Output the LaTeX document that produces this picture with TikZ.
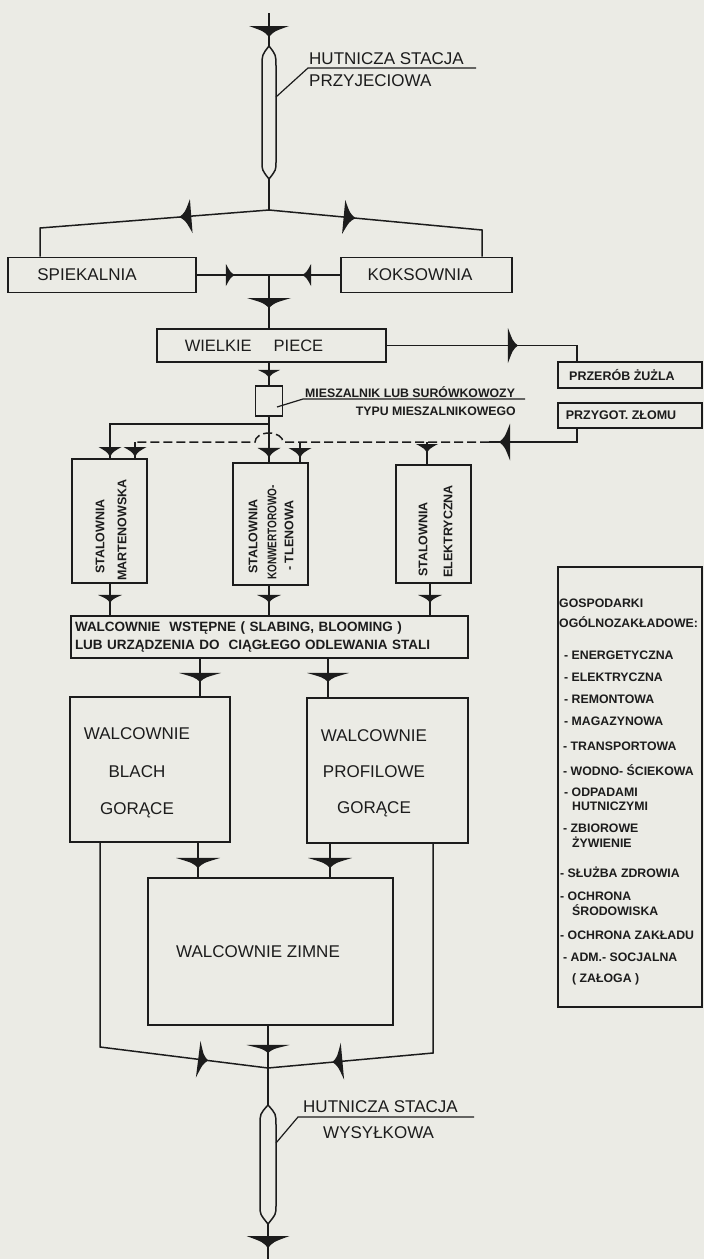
\documentclass[tikz,border=0pt]{standalone}
\usepackage{fontspec}
\setmainfont{Liberation Sans}
\usetikzlibrary{decorations.markings}
\definecolor{ink}{RGB}{28,28,28}
\definecolor{paper}{RGB}{235,235,229}
\tikzset{
  conn/.style={draw=ink, line width=1.5pt},
  lead/.style={draw=ink, line width=1.2pt},
  box/.style={draw=ink, line width=1.9pt, inner sep=0pt, text=ink},
  big/.style={font=\fontsize{17}{20}\selectfont, text=ink},
  sm/.style={font=\bfseries\fontsize{12.5}{15}\selectfont, text=ink},
  gt/.style={font=\bfseries\fontsize{12.3}{14}\selectfont, text=ink, anchor=west, inner sep=0pt},
  scrap/.style={dash pattern=on 9pt off 4pt},
  fa/.style args={#1:#2/#3}{postaction={decorate,decoration={markings,
      mark=at position #1 with {\fill[ink] (0,0) .. controls (-0.5*#3,0.12*#2) .. (-#3,0.5*#2) -- (-#3,-0.5*#2) .. controls (-0.5*#3,-0.12*#2) .. (0,0) -- cycle;}}}},
}
\begin{document}
\begin{tikzpicture}[x=1pt,y=-1pt]
\fill[paper] (0,0) rectangle (704,1259);
\useasboundingbox (0,0) rectangle (704,1259);

% ---------- boxes ----------
\node[box,big,minimum width=188pt,minimum height=35pt] (spiek) at (102,275) {SPIEKALNIA\hspace*{30pt}};
\node[box,big,minimum width=171pt,minimum height=35pt] (koks) at (426.5,275) {KOKSOWNIA\hspace*{13pt}};
\node[box,font=\fontsize{16.5}{20}\selectfont,minimum width=229pt,minimum height=33pt] (wp) at (271.5,345.5) {WIELKIE\hspace{22pt}PIECE\hspace*{35pt}};
\node[box,sm,minimum width=144pt,minimum height=26pt] (prz) at (630,375) {PRZERÓB ŻUŻLA\hspace*{16pt}};
\node[box,sm,minimum width=144pt,minimum height=25pt] (pzl) at (630,415.5) {PRZYGOT. ZŁOMU\hspace*{18pt}};
\node[box,minimum width=27pt,minimum height=30pt] (mix) at (269,401) {};
\node[box,minimum width=75pt,minimum height=124pt] (stM) at (109.5,521) {};
\node[box,minimum width=75pt,minimum height=122pt] (stK) at (270.5,524) {};
\node[box,minimum width=75pt,minimum height=118pt] (stE) at (433.5,524) {};
\node[box,sm,font=\bfseries\fontsize{13.5}{18}\selectfont,text width=389pt,inner xsep=4pt,minimum height=42pt,align=left] (wst) at (269.5,637)
  {WALCOWNIE\ \ WSTĘPNE ( SLABING, BLOOMING )\\LUB URZĄDZENIA DO\ \ CIĄGŁEGO ODLEWANIA STALI};
\node[box,font=\fontsize{17}{37.5}\selectfont,minimum width=160pt,minimum height=145pt] (blach) at (150,769.5)
  {\begin{tabular}{@{}c@{}}WALCOWNIE\\BLACH\\GORĄCE\end{tabular}\hspace*{26pt}};
\node[box,font=\fontsize{17}{36}\selectfont,minimum width=161pt,minimum height=145pt] (prof) at (387.5,770.5)
  {\begin{tabular}{@{}c@{}}WALCOWNIE\\PROFILOWE\\GORĄCE\end{tabular}\hspace*{27pt}};
\node[box,big,minimum width=245pt,minimum height=147pt] (zimne) at (270.5,951.5) {WALCOWNIE ZIMNE\hspace*{25pt}};
\node[box,minimum width=144pt,minimum height=440pt] (gosp) at (630,787) {};

% ---------- rotated texts in the steel plants ----------
\node[sm,rotate=90,anchor=west,inner sep=0pt] (tM1) at (100,574) {STALOWNIA};
\node[sm,rotate=90,anchor=west,inner sep=0pt] (tM2) at (122,581) {MARTENOWSKA};
\node[sm,rotate=90,anchor=west,inner sep=0pt] (tK1) at (253,574) {STALOWNIA};
\node[sm,rotate=90,anchor=west,inner sep=0pt] (tK2) at (272,580) {\scalebox{0.8}[1]{KONWERTOROWO-}};
\node[sm,rotate=90,anchor=west,inner sep=0pt] (tK3) at (289,571) {- TLENOWA};
\node[sm,rotate=90,anchor=west,inner sep=0pt] (tE1) at (423,577) {STALOWNIA};
\node[sm,rotate=90,anchor=west,inner sep=0pt] (tE2) at (448,578) {ELEKTRYCZNA};

% ---------- GOSPODARKI list ----------
\node[gt] (g0) at (559,603) {GOSPODARKI};
\node[gt] (g00) at (559,622) {OGÓLNOZAKŁADOWE:};
\foreach \xx/\yy/\tt [count=\i] in {
  564/655/- ENERGETYCZNA, 564/677/- ELEKTRYCZNA, 564/699/- REMONTOWA,
  564/721/- MAGAZYNOWA, 563/746/- TRANSPORTOWA, 563/770/- WODNO- ŚCIEKOWA,
  564/792/- ODPADAMI, 572/806/HUTNICZYMI, 563/828/- ZBIOROWE, 572/842/ŻYWIENIE,
  560/872/- SŁUŻBA ZDROWIA, 560/896/- OCHRONA, 572/910/ŚRODOWISKA,
  560/935/- OCHRONA ZAKŁADU, 563/957/- ADM.- SOCJALNA, 572/979/( ZAŁOGA )}
  \node[gt] (g\i) at (\xx,\yy) {\tt};

% ---------- coordinates ----------
\coordinate (top) at (269,13);
\coordinate (capT) at (269,46);
\coordinate (capB) at (269,179);
\coordinate (J1) at (269,210);
\coordinate (cL) at (40,228);
\coordinate (cR) at (482,230);
\coordinate (M1) at (269,275);
\coordinate (kP) at (577,345.5);
\coordinate (kZ) at (577,442);
\coordinate (kD) at (489,442);
\coordinate (hopR) at (283,442);
\coordinate (kS) at (135,442);
\coordinate (kK) at (300,442);
\coordinate (kE) at (427,442);
\coordinate (J2) at (269,424);
\coordinate (kM) at (110,424);
\coordinate (kE2) at (430,600);
\coordinate (kB1) at (200,680);
\coordinate (kP1) at (328,680);
\coordinate (kB2) at (198,860);
\coordinate (kP2) at (330,860);
\coordinate (kBL) at (100,1047);
\coordinate (kPR) at (433,1053);
\coordinate (J3) at (268,1068);
\coordinate (cap2T) at (268,1105);
\coordinate (cap2B) at (268,1224);
\coordinate (bot) at (268,1259);

% ---------- receiving station ----------
\draw[conn,fa=24pt:40/11] (top) -- (capT);
\draw[conn] (capT) .. controls (262,55) .. (262,66) -- (262,162) .. controls (262,170) .. (capB)
  .. controls (276,170) .. (276,162) -- (276,66) .. controls (276,55) .. (capT) -- cycle;
\draw[conn] (capB) -- (J1);
\draw[conn,fa=90pt:34/12] (J1) -- (cL) -- (cL |- spiek.north);
\draw[conn,fa=87pt:34/12] (J1) -- (cR) -- (cR |- koks.north);
\draw[lead] (276,97) -- (308,68) -- (476,68);
\node[big,anchor=west,inner sep=0pt] (lab1) at (309,59) {HUTNICZA STACJA};
\node[big,anchor=west,inner sep=0pt] (lab2) at (309,81) {PRZYJECIOWA};

% ---------- sinter and coke ----------
\draw[conn,fa=38pt:22/9] (spiek.east) -- (M1);
\draw[conn,fa=38pt:22/9] (koks.west) -- (M1);
\draw[conn,fa=33pt:44/10] (M1) -- (M1 |- wp.north);
\draw[conn,fa=131pt:35/10] (wp.east) -- (kP) -- (kP |- prz.north);
\draw[conn,fa=15pt:22/8] (M1 |- wp.south) -- (M1 |- mix.north);

% ---------- mixer ----------
\draw[lead] (277,407) -- (303,399) -- (525,399);
\node[sm,font=\bfseries\fontsize{12.3}{15}\selectfont,anchor=west,inner sep=0pt] (mlab1) at (305,392) {MIESZALNIK LUB SURÓWKOWOZY};
\node[sm,font=\bfseries\fontsize{12.3}{15}\selectfont,anchor=east,inner sep=0pt] (mlab2) at (516,411) {TYPU MIESZALNIKOWEGO};

\draw[conn,fa=41pt:23/10] (M1 |- mix.south) -- (M1 |- stK.north);
\draw[conn,fa=192pt:23/10] (J2) -- (kM) -- (kM |- stM.north);

% ---------- scrap ----------
\draw[conn,fa=91pt:37/11] (kZ |- pzl.south) -- (kZ) -- (kD);
\draw[conn,scrap] (kD) -- (hopR) arc[start angle=0,end angle=-180,x radius=14,y radius=9] -- (kS);
\draw[conn,fa=15pt:23/10] (kS) -- (kS |- stM.north);
\draw[conn,fa=16pt:23/10] (kK) -- (kK |- stK.north);
\draw[conn,fa=11pt:22/9] (kE) -- (kE |- stE.north);

% ---------- to primary mills ----------
\draw[conn,fa=19pt:24/8] (kM |- stM.south) -- (kM |- wst.north);
\draw[conn,fa=17pt:24/8] (M1 |- stK.south) -- (M1 |- wst.north);
\draw[conn,fa=19pt:24/8] (kE2 |- stE.south) -- (kE2 |- wst.north);

\draw[conn,fa=23pt:42/9] (kB1 |- wst.south) -- (kB1 |- blach.north);
\draw[conn,fa=23pt:42/9] (kP1 |- wst.south) -- (kP1 |- prof.north);

\draw[conn,fa=25pt:44/10] (kB2 |- blach.south) -- (kB2 |- zimne.north);
\draw[conn,fa=24pt:44/10] (kP2 |- prof.south) -- (kP2 |- zimne.north);

% ---------- shipping ----------
\draw[conn,fa=313pt:37/10] (kBL |- blach.south) -- (kBL) -- (J3);
\draw[conn,fa=310pt:37/10] (kPR |- prof.south) -- (kPR) -- (J3);
\draw[conn,fa=27pt:43/8] (J3 |- zimne.south) -- (J3);
\draw[conn] (J3) -- (cap2T);
\draw[conn] (cap2T) .. controls (260,1114) .. (260,1125) -- (260,1206) .. controls (260,1214) .. (cap2B)
  .. controls (276,1214) .. (276,1206) -- (276,1125) .. controls (276,1114) .. (cap2T) -- cycle;
\draw[conn,fa=24pt:43/12] (cap2B) -- (bot);
\draw[lead] (276,1143) -- (298,1117) -- (474,1117);
\node[big,anchor=west,inner sep=0pt] (lab3) at (303,1107) {HUTNICZA STACJA};
\node[big,anchor=west,inner sep=0pt] (lab4) at (323,1133) {WYSYŁKOWA};
\end{tikzpicture}
\end{document}
